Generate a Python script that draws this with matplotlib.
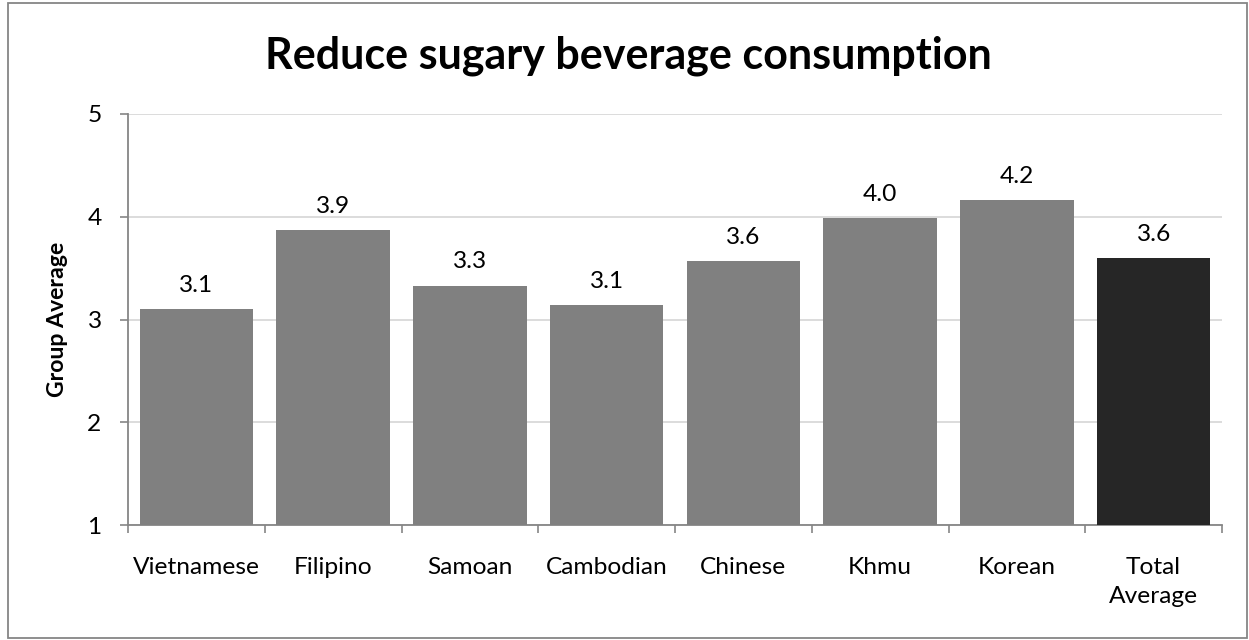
import matplotlib
matplotlib.use("Agg")
import matplotlib.pyplot as plt
from matplotlib.patches import Rectangle

categories = ["Vietnamese", "Filipino", "Samoan", "Cambodian", "Chinese", "Khmu", "Korean", "Total\nAverage"]
values = [3.10, 3.87, 3.33, 3.14, 3.57, 3.99, 4.16, 3.60]
labels = ["3.1", "3.9", "3.3", "3.1", "3.6", "4.0", "4.2", "3.6"]
colors = ["#808080"] * 7 + ["#262626"]
yticks = [1, 2, 3, 4, 5]

plt.rcParams['font.family'] = ['Lato', 'DejaVu Sans']

W, H = 1249, 640
fig = plt.figure(figsize=(W / 100, H / 100), dpi=100)
L, R, T, B = 128, 1222, 114, 525
ax = fig.add_axes([L / W, 1 - B / H, (R - L) / W, (B - T) / H])
renderer = fig.canvas.get_renderer()


def fit_size(txt, target_px, vertical=False):
    txt.set_fontsize(20)
    bb = txt.get_window_extent(renderer)
    cur = bb.height if vertical else bb.width
    return 20 * target_px / cur


# measure font sizes so text widths match the reference
probe = fig.text(0, 0, "Vietnamese")
tick_fs = fit_size(probe, 127)
probe.remove()
probe = fig.text(0, 0, "Reduce sugary beverage consumption", fontweight="bold")
title_fs = fit_size(probe, 727)
probe.remove()
probe = fig.text(0, 0, "Group Average", fontweight="bold", rotation=90)
ylab_fs = fit_size(probe, 155, vertical=True)
probe.remove()

x = list(range(len(categories)))
base = 1
ax.bar(x, [v - base for v in values], bottom=base, width=0.83, color=colors, zorder=3)
for xi, v, l in zip(x, values, labels):
    ax.annotate(l, (xi, v), xytext=(0, 9.5), textcoords="offset points",
                ha="center", va="bottom", fontsize=tick_fs, color="black")

ax.set_xlim(-0.5, len(categories) - 0.5)
ax.set_ylim(1, 5)
ax.set_yticks(yticks)
ax.yaxis.grid(True, color="#d9d9d9", linewidth=1.3, zorder=0)
ax.set_axisbelow(True)
ax.set_xticks(x)
ax.set_xticklabels(categories, fontsize=tick_fs, linespacing=1.45)
ax.set_xticks([i - 0.5 for i in range(len(categories) + 1)], minor=True)
ax.tick_params(axis="x", which="major", length=0, pad=23)
ax.tick_params(axis="x", which="minor", length=6, width=1.2, color="#868686", direction="out")
ax.tick_params(axis="y", length=6, width=1.2, color="#868686", labelsize=tick_fs, pad=13)
for s in ["top", "right"]:
    ax.spines[s].set_visible(False)
for s in ["left", "bottom"]:
    ax.spines[s].set_color("#868686")
    ax.spines[s].set_linewidth(1.3)
ax.set_ylabel("Group Average", fontsize=ylab_fs, fontweight="bold")
ax.yaxis.label.set_va("center")
ax.yaxis.set_label_coords((57 - L) / (R - L), 0.5)

fig.text(628 / W, 1 - 69 / H, "Reduce sugary beverage consumption", fontsize=title_fs,
         fontweight="bold", ha="center", va="baseline")

fig.add_artist(Rectangle((8 / W, 2 / H), (1247 - 8) / W, (637 - 2) / H, transform=fig.transFigure,
                         fill=False, edgecolor="#868686", linewidth=1.3))

fig.savefig("out.png", dpi=100)
